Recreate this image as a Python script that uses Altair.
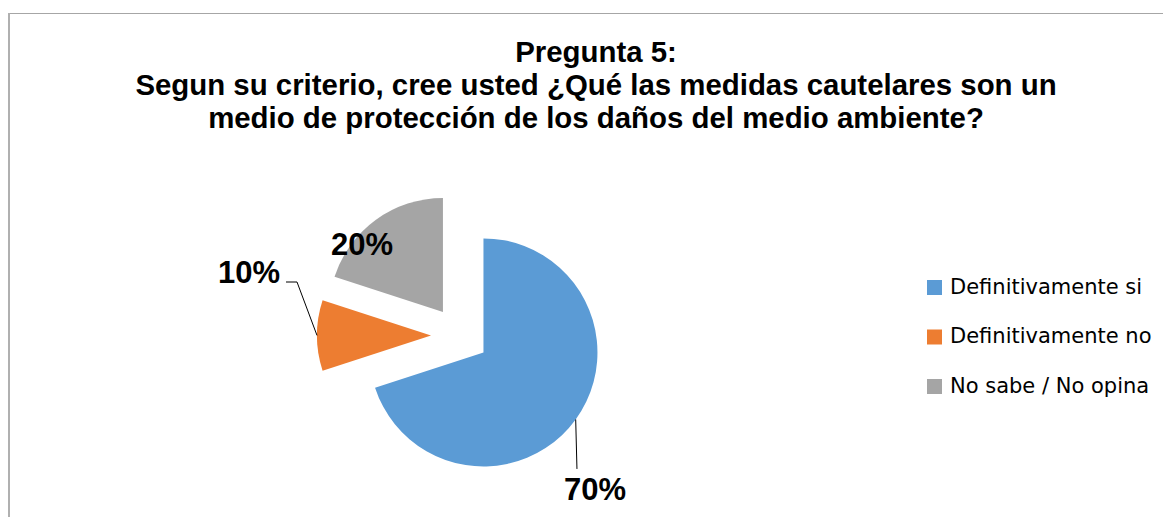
import altair as alt
import pandas as pd

# ---- data ----
categories = ["Definitivamente si", "Definitivamente no", "No sabe / No opina"]
values = [70, 10, 20]
colors = ["#5B9BD5", "#ED7D31", "#A5A5A5"]
title_lines = [
    "Pregunta 5:",
    "Segun su criterio, cree usted ¿Qué las medidas cautelares son un",
    "medio de protección de los daños del medio ambiente?",
]

df = pd.DataFrame({"category": categories, "value": values,
                   "order": list(range(len(categories)))})

# ---- layout (pixels, not data) ----
W, H = 1155, 504
CX, CY = 452, 322.4      # pie centre
R = 114                  # pie radius
EXPLODE = 29             # explosion distance
LABEL_DX = [111.5, -182, -81]
LABEL_DY = [147.5, -52.4, -57]
ELBOW_DX = [-18, 48, 0]
ELBOW_DY = [-31, -1, 0]
END_DX = [-18, 37, 0]
END_DY = [-31, -1, 0]
HAS_LEADER = [1, 1, 0]


def arr(a):
    return "[" + ",".join(str(v) for v in a) + "]"


base = alt.Chart(df).transform_joinaggregate(
    total="sum(value)"
).transform_window(
    cum="sum(value)", sort=[alt.SortField("order")], frame=[None, 0]
).transform_calculate(
    mid="2*PI*(datum.cum - datum.value/2)/datum.total"
).transform_calculate(
    sx=f"{CX} + {EXPLODE}*sin(datum.mid)",
    sy=f"{CY} - {EXPLODE}*cos(datum.mid)",
).transform_calculate(
    lx=f"datum.sx + {arr(LABEL_DX)}[datum.order]",
    ly=f"datum.sy + {arr(LABEL_DY)}[datum.order]",
)

arcs = base.mark_arc(radius=R, strokeWidth=0).encode(
    x=alt.X("sx:Q", scale=None, axis=None),
    y=alt.Y("sy:Q", scale=None, axis=None),
    theta=alt.Theta("value:Q", stack=True),
    order=alt.Order("order:Q"),
    color=alt.Color(
        "category:N",
        scale=alt.Scale(domain=categories, range=colors),
        legend=alt.Legend(
            orient="none", legendX=916, legendY=264, title=None,
            symbolType="square", symbolSize=225, symbolStrokeWidth=0,
            labelFont="DejaVu Sans", labelFontSize=21, labelColor="#000000",
            labelOffset=5, rowPadding=27.5, padding=0, labelLimit=400,
        ),
    ),
)

labels = base.transform_calculate(
    label="datum.value + '%'"
).mark_text(
    font="Liberation Sans", fontSize=31, fontWeight="bold", color="#000000",
    align="center", baseline="alphabetic",
).encode(
    x=alt.X("lx:Q", scale=None, axis=None),
    y=alt.Y("ly:Q", scale=None, axis=None),
    text="label:N",
)

leaders = base.transform_filter(
    f"{arr(HAS_LEADER)}[datum.order] == 1"
).transform_calculate(
    ex=f"datum.sx + {R}*sin(datum.mid)",
    ey=f"datum.sy - {R}*cos(datum.mid)",
    bx=f"datum.lx + {arr(ELBOW_DX)}[datum.order]",
    by=f"datum.ly + {arr(ELBOW_DY)}[datum.order]",
    qx=f"datum.lx + {arr(END_DX)}[datum.order]",
    qy=f"datum.ly + {arr(END_DY)}[datum.order]",
)
seg1 = leaders.mark_rule(color="#000000", strokeWidth=1).encode(
    x=alt.X("ex:Q", scale=None, axis=None), y=alt.Y("ey:Q", scale=None, axis=None),
    x2="bx:Q", y2="by:Q",
)
seg2 = leaders.mark_rule(color="#000000", strokeWidth=1).encode(
    x=alt.X("bx:Q", scale=None, axis=None), y=alt.Y("by:Q", scale=None, axis=None),
    x2="qx:Q", y2="qy:Q",
)

frame_src = alt.Chart(pd.DataFrame({"k": [0]}))
top_border = frame_src.mark_rule(color="#A6A6A6", strokeWidth=1).encode(
    x=alt.value(0), x2=alt.value(W), y=alt.value(0.5)
)
left_border = frame_src.mark_rule(color="#B0B0B0", strokeWidth=2).encode(
    x=alt.value(1), y=alt.value(0), y2=alt.value(H)
)

chart = alt.layer(top_border, left_border, arcs, seg1, seg2, labels).properties(
    width=W, height=H,
    padding={"left": 0, "top": 5, "right": 0, "bottom": 0},
    autosize=alt.AutoSizeParams(type="none"),
    title=alt.TitleParams(
        text=title_lines, font="Liberation Sans", fontSize=29.4, fontWeight="bold",
        color="#000000", lineHeight=33, anchor="middle", frame="group",
        dx=10.5, offset=-122,
    ),
).configure_view(stroke=None)

chart.save("out.html", embed_options={"renderer": "svg", "actions": False})
